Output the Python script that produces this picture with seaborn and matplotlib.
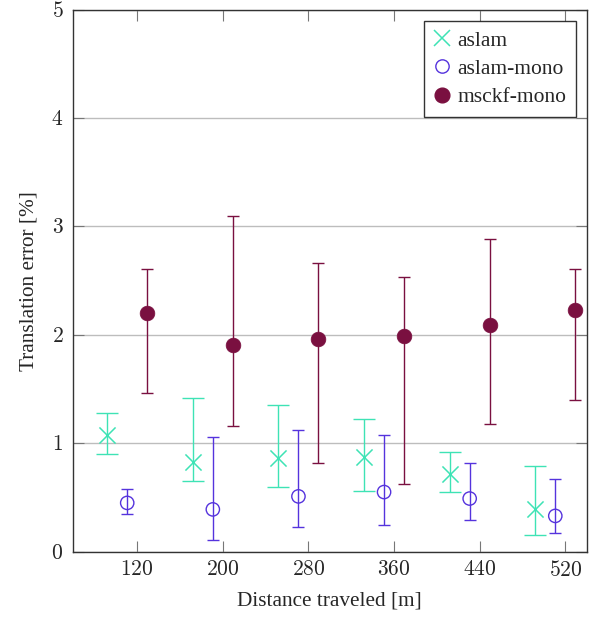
import numpy as np
import pandas as pd
import seaborn as sns
import matplotlib
matplotlib.use("Agg")
import matplotlib.pyplot as plt
from matplotlib.lines import Line2D

# Segment lengths on the x axis
distances = [120, 200, 280, 360, 440, 520]
tick_labels = ["120", "200", "280", "360", "440", "520"]

# Mean translation error [%] with lower / upper bounds of the error bars
aslam_mean = [1.08, 0.83, 0.86, 0.87, 0.72, 0.39]
aslam_low = [0.90, 0.65, 0.60, 0.56, 0.55, 0.15]
aslam_high = [1.28, 1.42, 1.35, 1.22, 0.92, 0.79]

mono_mean = [0.45, 0.39, 0.51, 0.55, 0.49, 0.33]
mono_low = [0.35, 0.11, 0.23, 0.25, 0.29, 0.17]
mono_high = [0.58, 1.06, 1.12, 1.08, 0.82, 0.67]

msckf_mean = [2.20, 1.91, 1.96, 1.99, 2.09, 2.23]
msckf_low = [1.46, 1.16, 0.82, 0.62, 1.18, 1.40]
msckf_high = [2.61, 3.10, 2.66, 2.53, 2.88, 2.61]

series_names = ["aslam", "aslam-mono", "msckf-mono"]
colors = ["#3ee3b5", "#5533dd", "#7a1040"]
x_shift = [-28.0, -9.35, 9.35]

sns.set_theme(style="white")
plt.rcParams["font.family"] = ["Liberation Serif", "DejaVu Serif"]
plt.rcParams["mathtext.fontset"] = "cm"

fig = plt.figure(figsize=(5.96, 6.18), dpi=100)
ax = fig.add_axes([0.1225, 0.1073, 0.8619, 0.8773])

rows = []
for name, mean, low, high, shift in zip(
    series_names,
    [aslam_mean, mono_mean, msckf_mean],
    [aslam_low, mono_low, msckf_low],
    [aslam_high, mono_high, msckf_high],
    x_shift,
):
    for d, m, lo, hi in zip(distances, mean, low, high):
        rows.append({"series": name, "x": d + shift, "err": m, "lo": lo, "hi": hi})
df = pd.DataFrame(rows)

# Asymmetric error bars, one colour per method
cap_sizes = [8.0, 4.6, 4.6]
for name, col, cap in zip(series_names, colors, cap_sizes):
    sub = df[df["series"] == name]
    yerr = np.vstack([sub["err"] - sub["lo"], sub["hi"] - sub["err"]])
    ax.errorbar(sub["x"], sub["err"], yerr=yerr, fmt="none", ecolor=col,
                elinewidth=1.0, capsize=cap, capthick=1.0, zorder=3)

# Mean markers
sub = df[df["series"] == "aslam"]
sns.scatterplot(data=sub, x="x", y="err", ax=ax, marker="x", s=135,
                color=colors[0], linewidth=1.1, zorder=4, legend=False)
sub = df[df["series"] == "aslam-mono"]
sns.scatterplot(data=sub, x="x", y="err", ax=ax, marker="o", s=92,
                facecolor="none", edgecolor=colors[1], linewidth=1.0,
                zorder=4, legend=False)
sub = df[df["series"] == "msckf-mono"]
sns.scatterplot(data=sub, x="x", y="err", ax=ax, marker="o", s=112,
                color=colors[2], edgecolor=colors[2], linewidth=0.5,
                zorder=4, legend=False)

ax.set_xlim(60, 540)
ax.set_ylim(0, 5)
ax.set_xticks(distances)
ax.set_xticklabels([f"${t}$" for t in tick_labels], fontsize=15.5)
ax.set_yticks(range(6))
ax.set_yticklabels([f"${v}$" for v in range(6)], fontsize=15.5)
ax.yaxis.grid(True, color="#bdbdbd", linewidth=1.0, zorder=0)
ax.xaxis.grid(False)
ax.tick_params(axis="both", direction="in", length=7.7, width=0.8,
               color="#777777", top=True, right=True, bottom=True, left=True,
               pad=7)
for sp in ax.spines.values():
    sp.set_color("#333333")
    sp.set_linewidth(1.0)
    sp.set_visible(True)

ax.set_xlabel("Distance traveled [m]", fontsize=15.3, labelpad=7)
ax.set_ylabel("Translation error [%]", fontsize=15.3, labelpad=9)

handles = [
    Line2D([], [], linestyle="none", marker="x", markersize=11.6,
           markeredgewidth=1.1, color=colors[0]),
    Line2D([], [], linestyle="none", marker="o", markersize=9.6,
           markerfacecolor="none", markeredgewidth=1.0, color=colors[1]),
    Line2D([], [], linestyle="none", marker="o", markersize=10.6,
           color=colors[2]),
]
leg = ax.legend(handles, series_names, loc="upper right",
                bbox_to_anchor=(0.979, 0.979), borderaxespad=0,
                fontsize=15.5, frameon=True, fancybox=False,
                handlelength=0.8, handletextpad=0.3, labelspacing=0.38,
                borderpad=0.45)
leg.get_frame().set_edgecolor("black")
leg.get_frame().set_linewidth(1.0)

fig.savefig("out.png", dpi=100)
